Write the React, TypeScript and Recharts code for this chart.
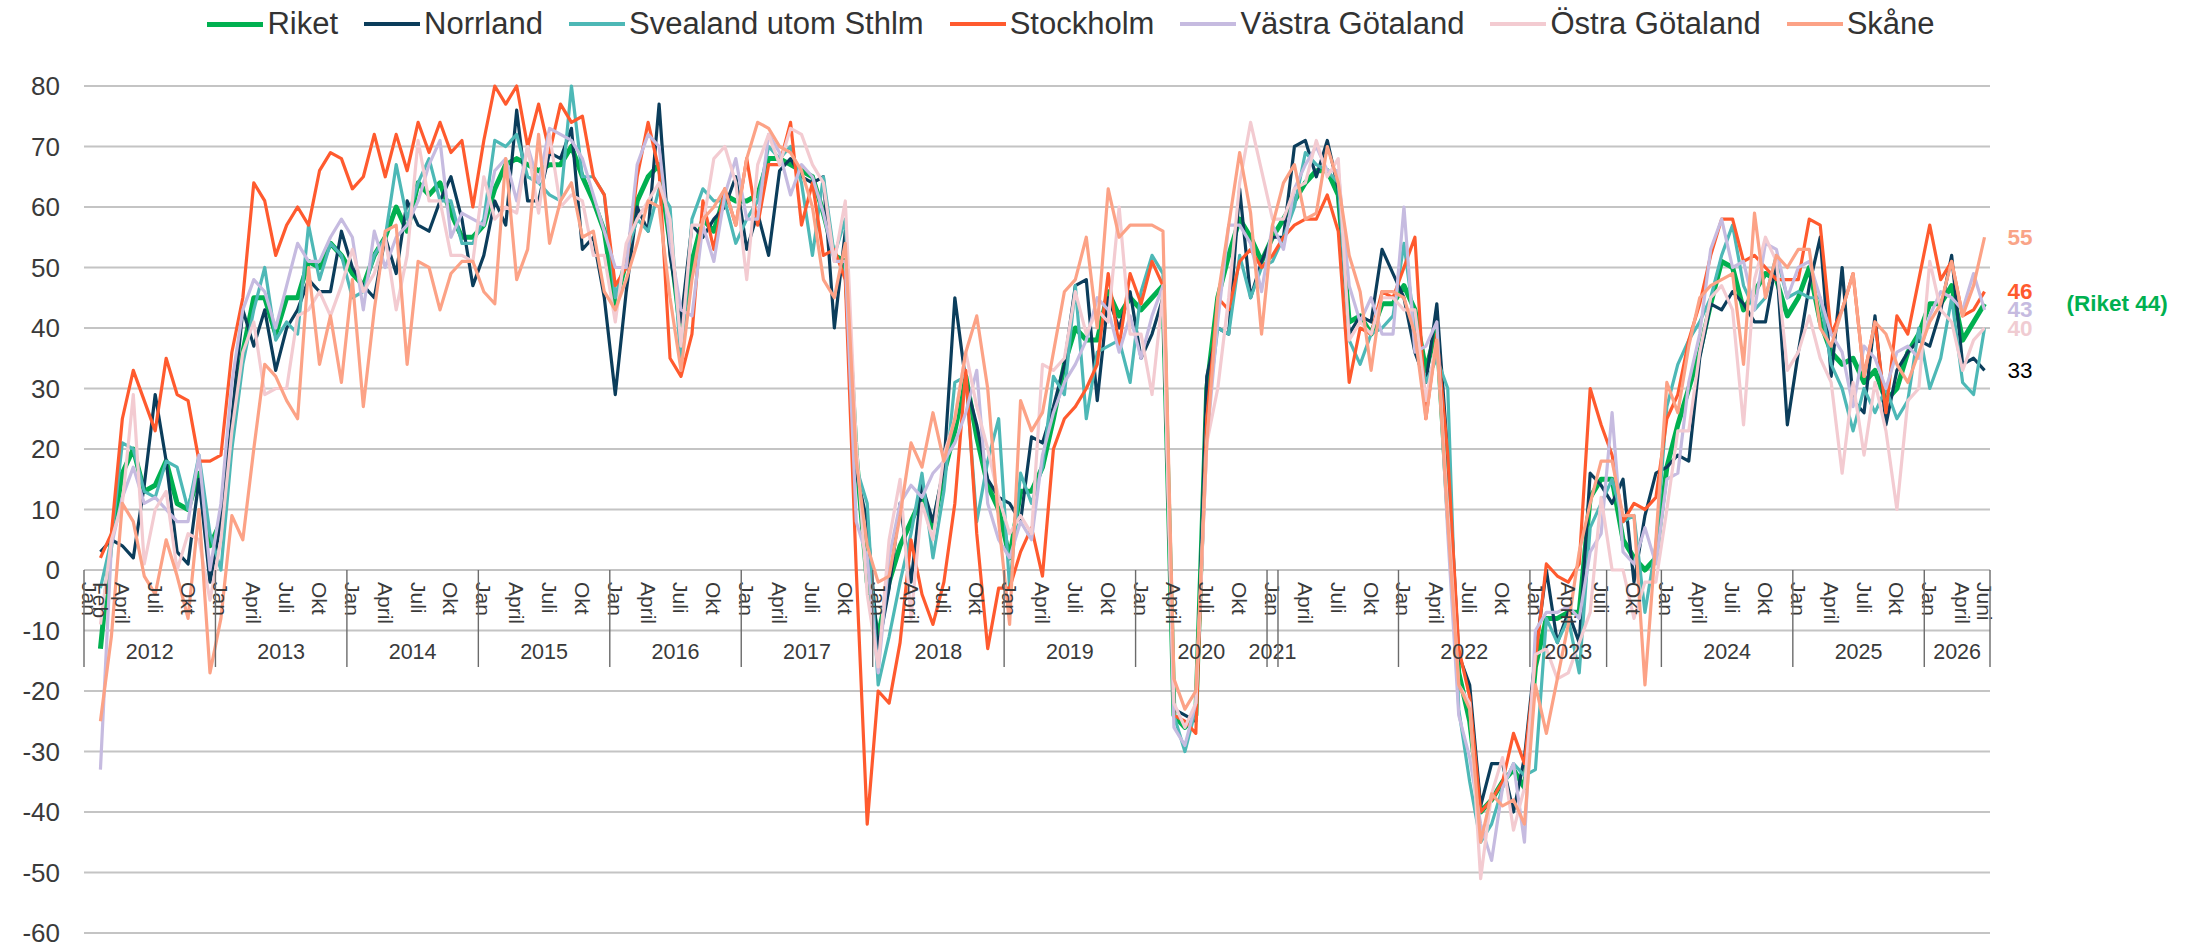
import React from 'react';
import { LineChart, Line, XAxis, YAxis, CartesianGrid } from 'recharts';

const W = 2200;
const H = 945;
const PLOT_LEFT = 84;
const PLOT_RIGHT = 1990;
const PLOT_TOP = 86;
const PLOT_BOTTOM = 933;
const Y_MIN = -60;
const Y_MAX = 80;
const ZERO_Y = PLOT_TOP + ((PLOT_BOTTOM - PLOT_TOP) * Y_MAX) / (Y_MAX - Y_MIN);
const FONT = '"Liberation Sans", Arial, sans-serif';
const TEXT = '#3a3a3a';

const FIRST_YEAR = 2012;
const MONTH_COUNT = 174; // Jan 2012 .. Juni 2026
const BAND = (PLOT_RIGHT - PLOT_LEFT) / MONTH_COUNT;

const Y_TICKS = [-60, -50, -40, -30, -20, -10, 0, 10, 20, 30, 40, 50, 60, 70, 80];

// month index within year -> label
const QUARTER_LABELS: Record<number, string> = { 0: 'Jan', 3: 'April', 6: 'Juli', 9: 'Okt' };
// extra labels by absolute category index
const EXTRA_LABELS: Record<number, string> = { 1: 'Feb', 173: 'Juni' };

// year row of the two-level axis (as in the source, 2021 and 2023 are split oddly)
const YEAR_GROUPS = [
  { label: '2012', months: 12 },
  { label: '2013', months: 12 },
  { label: '2014', months: 12 },
  { label: '2015', months: 12 },
  { label: '2016', months: 12 },
  { label: '2017', months: 12 },
  { label: '2018', months: 12 },
  { label: '2019', months: 12 },
  { label: '2020', months: 12 },
  { label: '2021', months: 1 },
  { label: '', months: 11 },
  { label: '2022', months: 12 },
  { label: '2023', months: 7 },
  { label: '', months: 5 },
  { label: '2024', months: 12 },
  { label: '2025', months: 12 },
  { label: '2026', months: 6 },
];

const CATEGORIES: string[] = [];
for (let i = 0; i < MONTH_COUNT; i++) {
  CATEGORIES.push(`${FIRST_YEAR + Math.floor(i / 12)}-${(i % 12) + 1}`);
}

const GROUP_START: Record<number, { label: string; months: number }> = {};
{
  let s = 0;
  for (const g of YEAR_GROUPS) {
    GROUP_START[s] = g;
    s += g.months;
  }
}

// one row per year, Jan..Dec
const RIKET = [
  null, -13, 5, 16, 20, 13, 14, 18, 11, 10, 16, 4,
  8, 23, 36, 45, 45, 39, 45, 45, 51, 50, 54, 52,
  49, 47, 52, 55, 60, 56, 64, 62, 64, 59, 55, 55,
  57, 63, 67, 68, 67, 66, 67, 67, 70, 65, 61, 56,
  44, 51, 61, 65, 67, 54, 39, 51, 58, 56, 62, 61,
  61, 62, 68, 68, 67, 66, 65, 59, 52, 51, 19, -2,
  -11, -2, 4, 8, 12, 7, 16, 23, 32, 22, 14, 10,
  2, 13, 13, 17, 25, 34, 40, 38, 38, 46, 42, 45,
  43, 45, 47, -24, -26, -24, 30, 45, 52, 58, 55, 51,
  55, 58, 61, 64, 66, 66, 62, 41, 42, 39, 44, 44,
  47, 43, 33, 40, 10, -17, -25, -40, -38, -35, -33, -36,
  -16, -8, -8, -7, -7, 12, 15, 15, 5, 2, 0, 2,
  17, 24, 30, 36, 44, 51, 50, 43, 46, 49, 48, 42,
  45, 50, 41, 36, 34, 35, 31, 33, 28, 30, 36, 39,
  44, 44, 47, 38, 41, 44,
];

const NORRLAND = [
  null, 3, 5, 4, 2, 14, 29, 18, 3, 1, 15, -2,
  8, 25, 43, 37, 43, 33, 40, 43, 48, 46, 46, 56,
  50, 47, 45, 55, 49, 61, 57, 56, 61, 65, 58, 47,
  52, 61, 57, 76, 61, 61, 69, 68, 73, 53, 55, 45,
  29, 46, 60, 56, 77, 52, 41, 57, 55, 58, 60, 65,
  53, 59, 52, 66, 68, 65, 64, 65, 40, 56, 16, 8,
  -13, -3, 11, -2, 14, 8, 17, 45, 31, 24, 15, 12,
  11, 8, 22, 21, 27, 34, 47, 48, 28, 45, 40, 46,
  35, 39, 45, -23, -24, -25, 32, 40, 39, 63, 45, 51,
  55, 55, 70, 71, 65, 71, 63, 39, 42, 41, 53, 49,
  45, 36, 31, 44, 19, -14, -19, -39, -32, -32, -40, -31,
  -14, 0, -12, -7, -12, 16, 14, 11, 15, -2, 9, 16,
  17, 19, 18, 35, 44, 43, 46, 44, 41, 41, 51, 24,
  36, 47, 55, 32, 50, 28, 26, 42, 24, 33, 36, 38,
  37, 43, 52, 34, 35, 33,
];

const SVEALAND = [
  null, -3, 5, 21, 20, 13, 12, 18, 17, 10, 19, 6,
  0, 20, 34, 43, 50, 38, 41, 39, 57, 48, 54, 52,
  45, 46, 52, 55, 67, 58, 64, 68, 61, 61, 54, 54,
  58, 71, 70, 72, 65, 64, 62, 61, 80, 65, 65, 62,
  45, 52, 58, 56, 63, 60, 34, 58, 63, 61, 61, 54,
  58, 61, 70, 68, 70, 64, 52, 65, 52, 58, 17, 11,
  -19, -11, -2, 6, 16, 2, 13, 31, 32, 8, 18, 25,
  -3, 16, 11, 17, 32, 29, 47, 25, 36, 37, 38, 31,
  46, 52, 49, -24, -30, -23, 25, 40, 39, 52, 45, 50,
  51, 55, 60, 69, 67, 66, 64, 38, 34, 39, 40, 42,
  54, 40, 31, 35, 30, -23, -35, -45, -42, -36, -32, -34,
  -33, -8, -12, -8, -17, 7, 11, 15, 8, 9, -7, 4,
  27, 34, 38, 41, 45, 52, 57, 47, 43, 45, 52, 45,
  46, 45, 45, 34, 30, 23, 30, 26, 30, 25, 28, 40,
  30, 35, 45, 31, 29, 40,
];

const STOCKHOLM = [
  null, 2, 6, 25, 33, 28, 23, 35, 29, 28, 18, 18,
  19, 36, 45, 64, 61, 52, 57, 60, 57, 66, 69, 68,
  63, 65, 72, 65, 72, 66, 74, 69, 74, 69, 71, 60,
  71, 80, 77, 80, 70, 77, 69, 77, 74, 75, 65, 62,
  47, 50, 65, 74, 66, 35, 32, 39, 61, 53, 63, 57,
  68, 57, 67, 67, 74, 57, 64, 52, 53, 48, 0, -42,
  -20, -22, -12, 5, -4, -9, -2, 11, 33, 6, -13, -3,
  -3, 3, 7, -1, 20, 25, 27, 30, 34, 49, 37, 49,
  44, 51, 47, -24, -25, -27, 25, 45, 43, 51, 53, 50,
  52, 55, 57, 58, 58, 62, 56, 31, 40, 39, 46, 45,
  50, 55, 25, 39, 19, -13, -21, -40, -38, -35, -27, -32,
  -15, 1, -1, -2, 1, 30, 24, 19, 8, 11, 10, 12,
  25, 29, 38, 44, 52, 58, 58, 51, 52, 50, 48, 48,
  48, 58, 57, 39, 43, 49, 32, 41, 26, 42, 39, 48,
  57, 48, 51, 42, 43, 46,
];

const VASTRA = [
  null, -33, 4, 12, 17, 11, 12, 10, 8, 8, 19, 0,
  11, 31, 43, 48, 46, 40, 47, 54, 51, 51, 55, 58,
  55, 43, 56, 50, 55, 57, 61, 67, 71, 55, 59, 58,
  57, 66, 68, 61, 70, 64, 73, 72, 71, 68, 62, 56,
  50, 50, 67, 72, 70, 54, 43, 42, 57, 51, 62, 68,
  58, 58, 72, 69, 62, 67, 65, 59, 51, 51, 8, 2,
  -17, 2, 11, 14, 12, 16, 18, 21, 26, 33, 11, 5,
  2, 8, 5, 19, 26, 31, 34, 38, 45, 43, 36, 42,
  35, 42, 47, -26, -29, -22, 21, 41, 57, 57, 54, 46,
  57, 53, 63, 67, 70, 66, 66, 47, 41, 45, 39, 39,
  60, 36, 37, 41, 6, -24, -31, -42, -48, -36, -32, -45,
  -10, -7, -7, -6, -8, 3, 6, 26, 3, 1, 7, 1,
  15, 16, 31, 39, 53, 58, 50, 51, 43, 54, 53, 45,
  50, 51, 45, 39, 36, 27, 37, 35, 30, 36, 37, 35,
  42, 46, 45, 43, 49, 43,
];

const OSTRA = [
  null, -9, 5, 11, 29, 1, 10, 13, 0, 6, 5, -5,
  5, 23, 36, 41, 29, 30, 30, 42, 43, 46, 42, 47,
  53, 46, 49, 55, 43, 52, 71, 61, 61, 52, 52, 51,
  65, 58, 60, 59, 70, 59, 72, 60, 62, 61, 52, 52,
  41, 54, 58, 61, 64, 58, 37, 57, 57, 68, 70, 64,
  48, 67, 72, 67, 73, 72, 67, 64, 51, 61, 21, -4,
  -16, 5, 15, -8, 11, 5, 19, 25, 36, 27, 20, 12,
  6, 9, 6, 34, 33, 35, 46, 39, 43, 41, 60, 39,
  39, 29, 46, -22, -26, -22, 21, 30, 45, 64, 74, 66,
  58, 58, 63, 64, 71, 65, 68, 38, 41, 39, 45, 45,
  43, 43, 28, 38, 10, -19, -22, -51, -37, -31, -43, -36,
  -14, -13, -18, -17, -12, -7, 12, 0, 0, -8, -2, -2,
  10, 23, 23, 36, 45, 47, 43, 24, 48, 55, 51, 33,
  36, 42, 35, 31, 16, 31, 19, 31, 23, 10, 28, 30,
  51, 43, 41, 33, 38, 40,
];

const SKANE = [
  null, -25, -11, 11, 8, -1, -4, 5, -1, -8, 10, -17,
  -8, 9, 5, 20, 34, 32, 28, 25, 50, 34, 42, 31,
  48, 27, 43, 56, 57, 34, 51, 50, 43, 49, 51, 51,
  46, 44, 68, 48, 53, 72, 54, 61, 64, 55, 56, 46,
  43, 48, 54, 61, 60, 45, 33, 48, 58, 60, 63, 57,
  68, 74, 73, 70, 69, 66, 60, 48, 45, 54, 18, 4,
  -2, -1, 9, 21, 17, 26, 18, 25, 36, 42, 30, 8,
  -9, 28, 23, 26, 36, 46, 48, 55, 40, 63, 55, 57,
  57, 57, 56, -18, -23, -20, 21, 45, 57, 69, 59, 39,
  57, 64, 67, 58, 59, 70, 64, 52, 46, 33, 46, 46,
  45, 39, 25, 38, 8, -19, -23, -45, -37, -39, -38, -42,
  -19, -27, -18, -9, 3, 11, 18, 18, 9, 9, -19, 5,
  31, 26, 37, 45, 47, 48, 49, 34, 59, 45, 52, 50,
  53, 53, 40, 37, 43, 49, 32, 41, 39, 34, 31, 36,
  41, 44, 51, 42, 47, 55,
];

const SERIES = [
  { key: 'riket', name: 'Riket', color: '#00B050', width: 5, values: RIKET,
    end: { text: '(Riket 44)', color: '#00B050', bold: true, dx: 82 } },
  { key: 'norrland', name: 'Norrland', color: '#0B3D5B', width: 3.2, values: NORRLAND,
    end: { text: '33', color: '#000000', bold: false, dx: 23 } },
  { key: 'svealand', name: 'Svealand utom Sthlm', color: '#4DB8B6', width: 3.2, values: SVEALAND, end: null },
  { key: 'stockholm', name: 'Stockholm', color: '#FF5A2E', width: 3.2, values: STOCKHOLM,
    end: { text: '46', color: '#FF5A2E', bold: true, dx: 23 } },
  { key: 'vastra', name: 'Västra Götaland', color: '#C6BBE0', width: 3.2, values: VASTRA,
    end: { text: '43', color: '#C6BBE0', bold: true, dx: 23 } },
  { key: 'ostra', name: 'Östra Götaland', color: '#F3CBD1', width: 3.2, values: OSTRA,
    end: { text: '40', color: '#F0CCD2', bold: true, dx: 23 } },
  { key: 'skane', name: 'Skåne', color: '#FCA286', width: 3.2, values: SKANE,
    end: { text: '55', color: '#F9A487', bold: true, dx: 23 } },
];

const DATA = CATEGORIES.map((c, i) => {
  const row: Record<string, string | number | null> = { key: c };
  for (const s of SERIES) row[s.key] = s.values[i] ?? null;
  return row;
});

function MonthTick(props: any) {
  const { x, payload } = props;
  const idx = CATEGORIES.indexOf(payload.value);
  const label = EXTRA_LABELS[idx] ?? (idx > 1 && idx < 173 ? QUARTER_LABELS[idx % 12] : idx === 0 ? 'Jan' : undefined);
  const group = GROUP_START[idx];
  const left = x - BAND / 2;
  return (
    <g>
      {label && (
        <text
          transform={`translate(${x - 7.5}, ${ZERO_Y + 12}) rotate(90)`}
          fontSize={21}
          fontFamily={FONT}
          fill={TEXT}
          textAnchor="start"
        >
          {label}
        </text>
      )}
      {group && <line x1={left} x2={left} y1={ZERO_Y} y2={ZERO_Y + 97} stroke="#6b6b6b" strokeWidth={1.4} />}
      {idx === MONTH_COUNT - 1 && (
        <line x1={x + BAND / 2} x2={x + BAND / 2} y1={ZERO_Y} y2={ZERO_Y + 97} stroke="#6b6b6b" strokeWidth={1.4} />
      )}
      {group && group.label && (
        <text
          x={left + (group.months * BAND) / 2}
          y={ZERO_Y + 82}
          fontSize={21.5}
          fontFamily={FONT}
          fill={TEXT}
          textAnchor="middle"
          dominantBaseline="central"
        >
          {group.label}
        </text>
      )}
    </g>
  );
}

function ValueTick(props: any) {
  const { y, payload } = props;
  return (
    <text x={60} y={y} fontSize={26} fontFamily={FONT} fill={TEXT} textAnchor="end" dominantBaseline="central">
      {payload.value}
    </text>
  );
}

function endLabel(end: { text: string; color: string; bold: boolean; dx: number } | null) {
  return (p: any) => {
    if (!end || p.index !== MONTH_COUNT - 1) return <g key={`e-${p.index}`} />;
    return (
      <text
        key="end"
        x={p.x + end.dx}
        y={p.y}
        fontSize={22.5}
        fontWeight={end.bold ? 'bold' : 'normal'}
        fontFamily={FONT}
        fill={end.color}
        textAnchor="start"
        dominantBaseline="central"
      >
        {end.text}
      </text>
    );
  };
}

function TopLegend() {
  return (
    <div
      style={{
        position: 'absolute',
        left: 0,
        top: 4,
        width: 2142,
        display: 'flex',
        justifyContent: 'center',
        gap: 26,
        fontFamily: FONT,
        fontSize: 31,
        color: '#333',
        lineHeight: '40px',
      }}
    >
      {SERIES.map((s) => (
        <div key={s.key} style={{ display: 'flex', alignItems: 'center', gap: 4 }}>
          <span style={{ display: 'inline-block', width: 56, height: s.key === 'riket' ? 5 : 4, background: s.color }} />
          <span>{s.name}</span>
        </div>
      ))}
    </div>
  );
}

export default function App() {
  return (
    <div style={{ position: 'absolute', left: 0, top: 0, width: W, height: H, background: '#fff', fontFamily: FONT }}>
      <TopLegend />
      <LineChart
        width={W}
        height={H}
        data={DATA}
        margin={{ top: PLOT_TOP, right: W - PLOT_RIGHT, bottom: 0, left: 0 }}
      >
        <CartesianGrid vertical={false} stroke="#C4C4C4" strokeWidth={2} />
        <XAxis
          dataKey="key"
          type="category"
          scale="point"
          interval={0}
          height={H - PLOT_BOTTOM}
          axisLine={false}
          tickLine={false}
          padding={{ left: BAND / 2, right: BAND / 2 }}
          tick={(p: any) => <MonthTick {...p} />}
        />
        <YAxis
          width={PLOT_LEFT}
          domain={[Y_MIN, Y_MAX]}
          ticks={Y_TICKS}
          interval={0}
          axisLine={false}
          tickLine={false}
          tick={(p: any) => <ValueTick {...p} />}
        />
        {SERIES.map((s) => (
          <Line
            key={s.key}
            dataKey={s.key}
            name={s.name}
            stroke={s.color}
            strokeWidth={s.width}
            strokeLinejoin="round"
            dot={false}
            activeDot={false}
            isAnimationActive={false}
            label={endLabel(s.end)}
          />
        ))}
      </LineChart>
    </div>
  );
}
